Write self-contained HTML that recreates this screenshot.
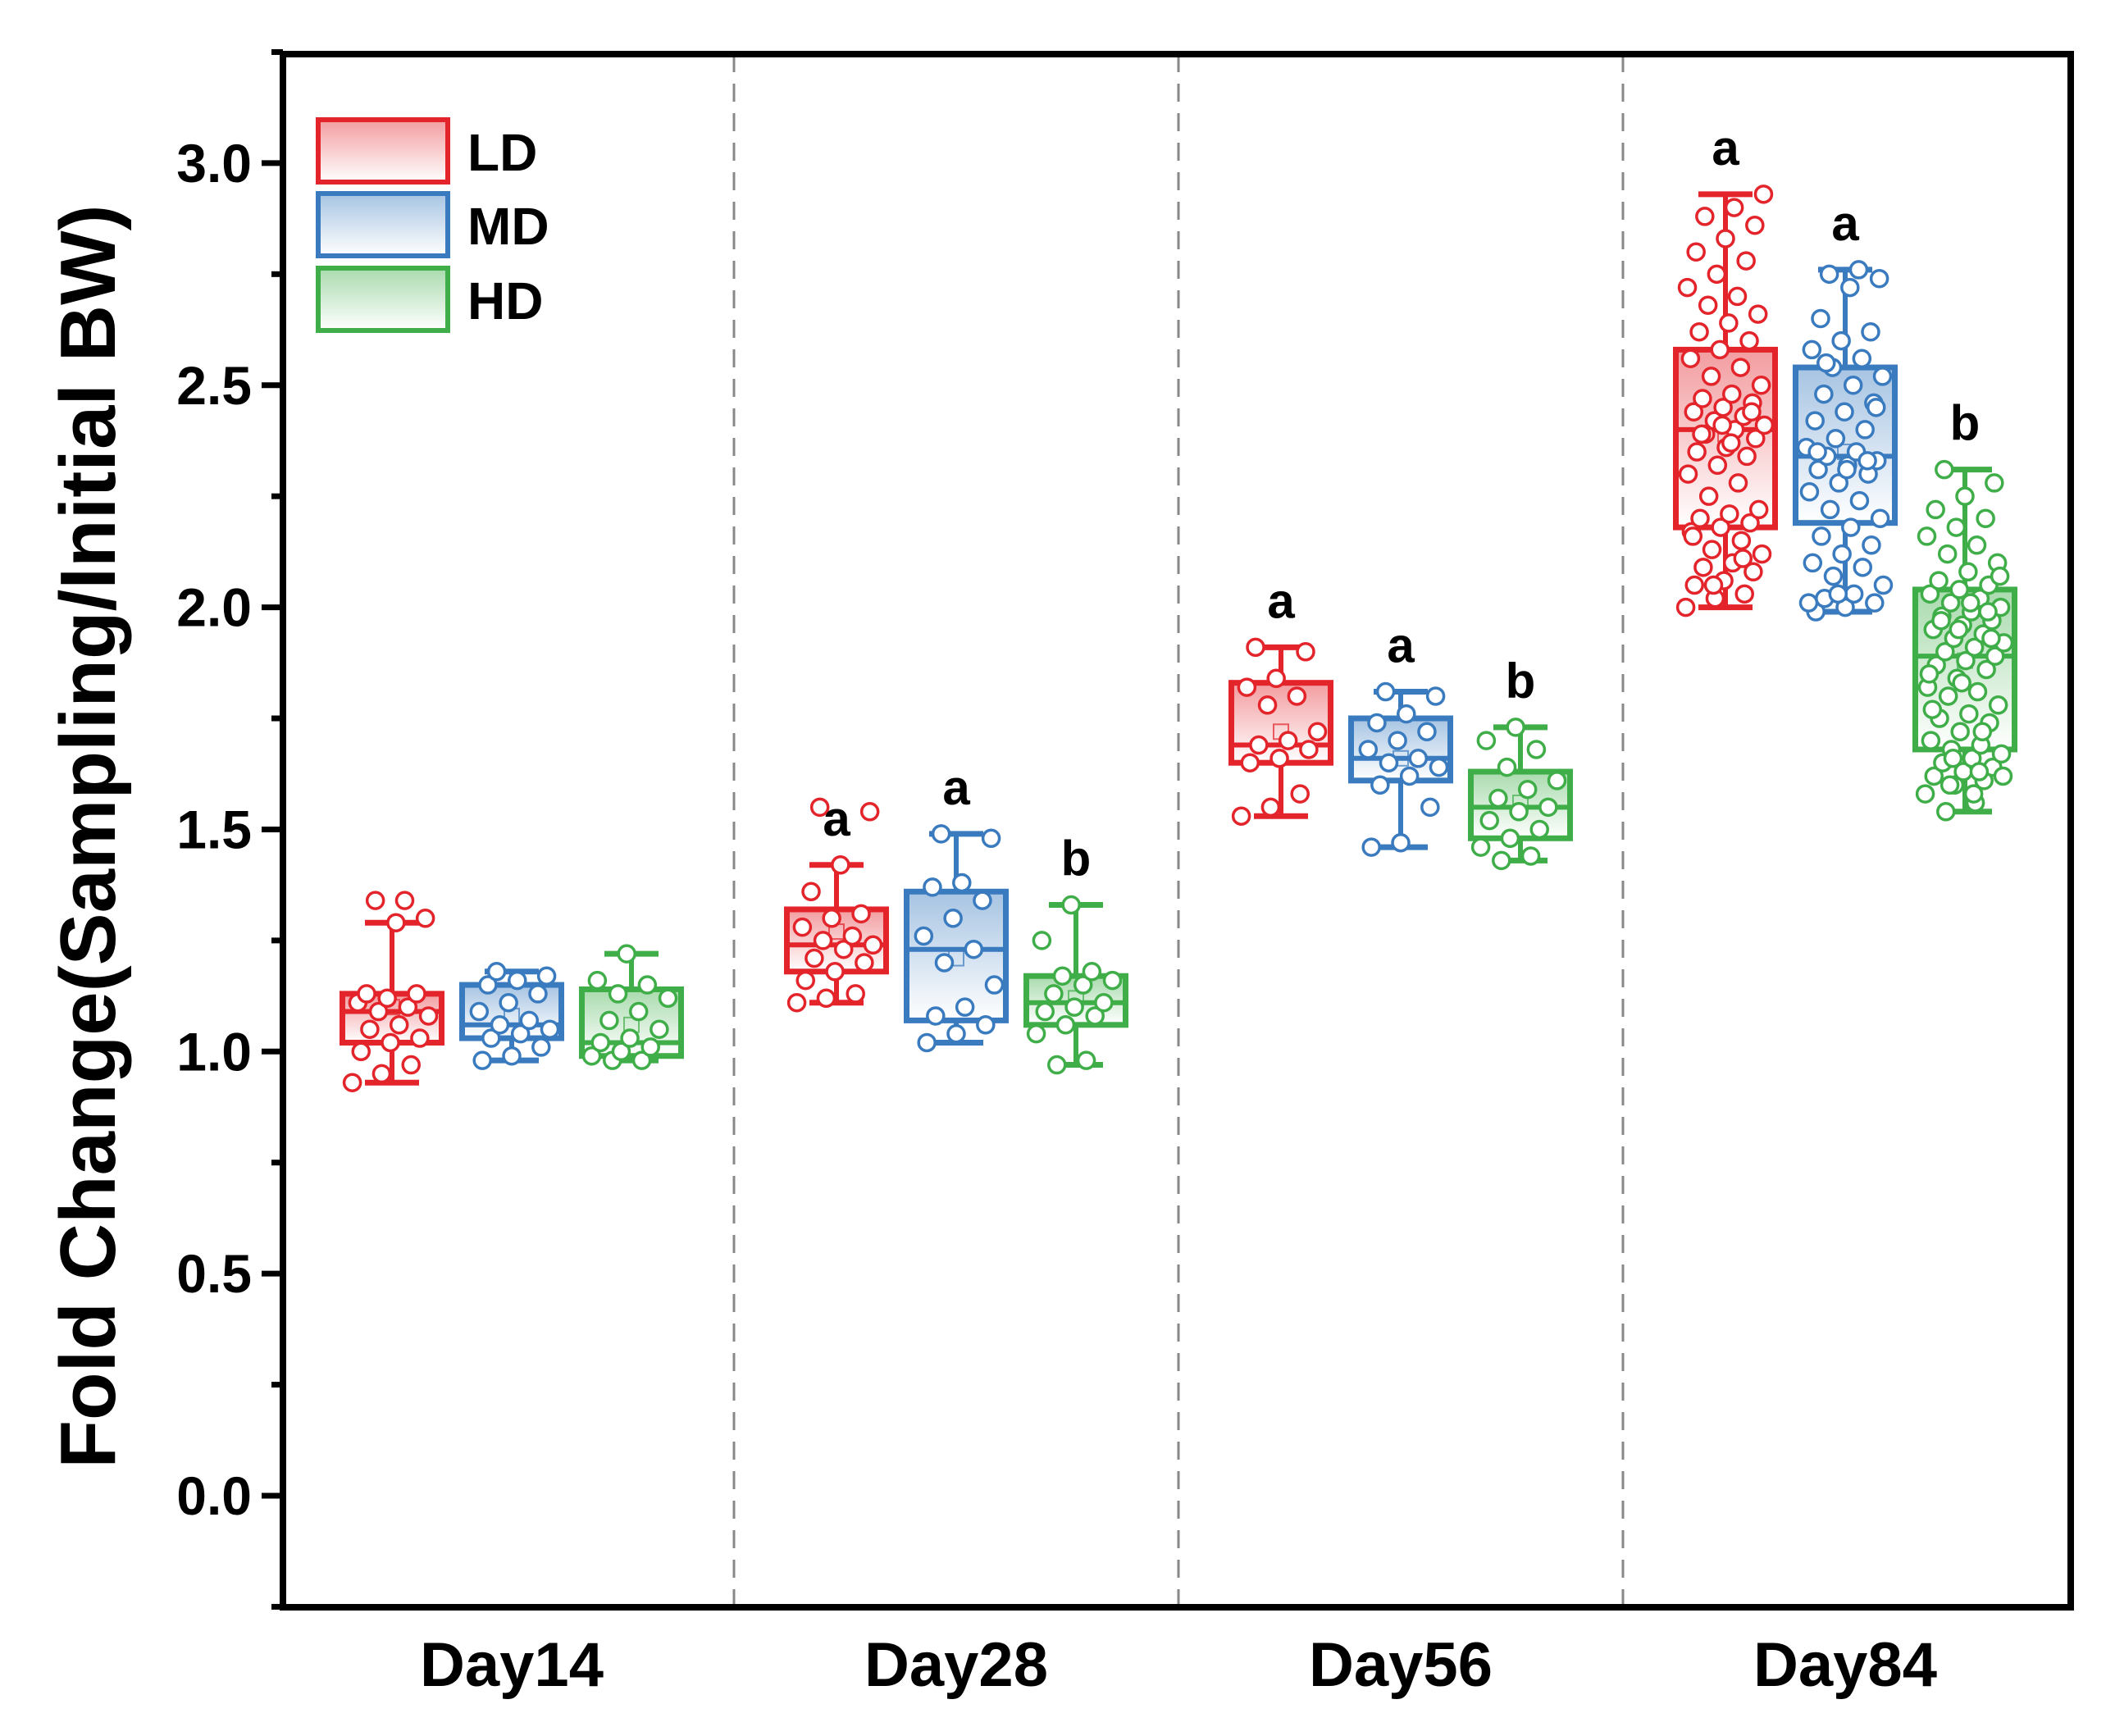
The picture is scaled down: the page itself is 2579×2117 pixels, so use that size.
<!DOCTYPE html>
<html><head><meta charset="utf-8">
<style>
html,body{margin:0;padding:0;background:#fff;}
svg{display:block;font-family:"Liberation Sans",Arial,sans-serif;}
</style></head>
<body>
<svg id="chart" width="2579" height="2117" viewBox="0 0 2579 2117">
<defs>
<linearGradient id="gLD" x1="0" y1="0" x2="0" y2="1"><stop offset="0" stop-color="#e3242b" stop-opacity="0.45"/><stop offset="1" stop-color="#e3242b" stop-opacity="0"/></linearGradient>
<linearGradient id="gMD" x1="0" y1="0" x2="0" y2="1"><stop offset="0" stop-color="#3a7bbf" stop-opacity="0.45"/><stop offset="1" stop-color="#3a7bbf" stop-opacity="0"/></linearGradient>
<linearGradient id="gHD" x1="0" y1="0" x2="0" y2="1"><stop offset="0" stop-color="#3fae49" stop-opacity="0.45"/><stop offset="1" stop-color="#3fae49" stop-opacity="0"/></linearGradient>
</defs>
<g id="plot"></g>
</svg>
<script>
const categories = ["Day14","Day28","Day56","Day84"];
const seriesNames = ["LD","MD","HD"];
const yTicks = [0.0,0.5,1.0,1.5,2.0,2.5,3.0];
const yTickLabels = ["0.0","0.5","1.0","1.5","2.0","2.5","3.0"];
// [whiskerLow, q1, median, q3, whiskerHigh, mean] per category
const statsLD = [[0.93,1.02,1.09,1.13,1.29,1.10],[1.11,1.18,1.24,1.32,1.42,1.27],[1.53,1.65,1.69,1.83,1.91,1.72],[2.00,2.18,2.40,2.58,2.93,2.39]];
const statsMD = [[0.98,1.03,1.06,1.15,1.18,1.08],[1.02,1.07,1.23,1.36,1.49,1.21],[1.46,1.61,1.66,1.75,1.81,1.66],[1.99,2.19,2.34,2.54,2.76,2.35]];
const statsHD = [[0.98,0.99,1.02,1.14,1.22,1.06],[0.97,1.06,1.11,1.17,1.33,1.12],[1.43,1.48,1.55,1.63,1.73,1.56],[1.54,1.68,1.89,2.04,2.31,1.88]];
const letters = [["","",""],["a","a","b"],["a","a","b"],["a","a","b"]];
const ptsLD = [
 [0.93,0.95,0.97,1.00,1.02,1.03,1.05,1.06,1.08,1.09,1.10,1.11,1.12,1.13,1.13,1.29,1.30,1.34,1.34],
 [1.11,1.12,1.13,1.16,1.18,1.20,1.21,1.23,1.24,1.25,1.26,1.28,1.30,1.31,1.36,1.42,1.54,1.55],
 [1.53,1.55,1.58,1.65,1.66,1.68,1.69,1.70,1.72,1.78,1.80,1.82,1.84,1.90,1.91],
 [2.00,2.02,2.03,2.05,2.06,2.08,2.09,2.10,2.12,2.13,2.15,2.17,2.18,2.19,2.20,2.21,2.22,2.25,2.28,2.30,2.32,2.34,2.35,2.36,2.38,2.39,2.40,2.41,2.42,2.43,2.44,2.45,2.46,2.47,2.48,2.50,2.52,2.54,2.56,2.58,2.60,2.62,2.64,2.66,2.68,2.70,2.72,2.75,2.78,2.80,2.83,2.86,2.88,2.90,2.93,2.05,2.11,2.16,2.41,2.44,2.39,2.37]];
const ptsMD = [
 [0.98,0.99,1.01,1.03,1.04,1.05,1.06,1.07,1.09,1.11,1.13,1.15,1.16,1.17,1.18],
 [1.02,1.04,1.06,1.08,1.10,1.15,1.20,1.23,1.26,1.30,1.34,1.37,1.38,1.48,1.49],
 [1.46,1.47,1.55,1.60,1.62,1.64,1.65,1.66,1.68,1.70,1.72,1.74,1.76,1.80,1.81],
 [1.99,2.00,2.01,2.02,2.03,2.05,2.07,2.09,2.10,2.12,2.14,2.16,2.18,2.20,2.22,2.24,2.26,2.28,2.30,2.31,2.32,2.33,2.34,2.35,2.36,2.38,2.40,2.42,2.44,2.46,2.48,2.50,2.52,2.54,2.56,2.58,2.60,2.62,2.65,2.72,2.74,2.75,2.76,2.01,2.03,2.33,2.35,2.31,2.45,2.55]];
const ptsHD = [
 [0.98,0.98,0.99,1.00,1.01,1.02,1.03,1.05,1.07,1.09,1.12,1.13,1.15,1.16,1.22],
 [0.97,0.98,1.04,1.06,1.08,1.09,1.10,1.11,1.13,1.15,1.16,1.17,1.18,1.25,1.33],
 [1.43,1.44,1.46,1.48,1.50,1.52,1.54,1.55,1.57,1.59,1.61,1.64,1.68,1.70,1.73],
 [1.54,1.56,1.58,1.60,1.61,1.62,1.63,1.64,1.65,1.66,1.67,1.68,1.69,1.70,1.72,1.74,1.75,1.76,1.78,1.80,1.81,1.82,1.84,1.86,1.87,1.88,1.89,1.90,1.91,1.92,1.93,1.94,1.95,1.96,1.97,1.98,1.99,2.00,2.01,2.02,2.03,2.04,2.05,2.06,2.08,2.10,2.12,2.14,2.16,2.18,2.20,2.22,2.25,2.28,2.31,1.58,1.62,1.66,1.72,1.77,1.83,1.93,1.97,2.01,2.07,1.60,1.63,1.85,1.95,1.99]];

const NS="http://www.w3.org/2000/svg";
const g=document.getElementById('plot');
const L=345,R=2525,T=66,B=1960;
const y0px=1824, perUnit=541.7;
function yS(v){return y0px-v*perUnit;}
const groupStep=542, groupStart=624;
function xS(ci){return groupStart+ci*groupStep;}
const offs=[-146,0,146];
const colors=["#e3242b","#3a7bbf","#3fae49"];
const grads=["url(#gLD)","url(#gMD)","url(#gHD)"];
const stats=[statsLD,statsMD,statsHD];
const pts=[ptsLD,ptsMD,ptsHD];
function el(t,a,p){const e=document.createElementNS(NS,t);for(const k in a)e.setAttribute(k,a[k]);(p||g).appendChild(e);return e;}

for(let i=1;i<categories.length;i++){
 const x=(xS(i-1)+xS(i))/2;
 const d=el('line',{x1:x,x2:x,y1:T,y2:B,stroke:'#888','stroke-width':3,'stroke-dasharray':'22,14'});
 
 
}
const bw=121, cap=66;
for(let ci=0;ci<categories.length;ci++){
 for(let si=0;si<3;si++){
  const s=stats[si][ci], cx=xS(ci)+offs[si], c=colors[si];
  const grp=el('g',{});
  
  
  el('line',{x1:cx,x2:cx,y1:yS(s[0]),y2:yS(s[1]),stroke:c,'stroke-width':6},grp);
  el('line',{x1:cx,x2:cx,y1:yS(s[3]),y2:yS(s[4]),stroke:c,'stroke-width':6},grp);
  el('line',{x1:cx-cap/2,x2:cx+cap/2,y1:yS(s[0]),y2:yS(s[0]),stroke:c,'stroke-width':7},grp);
  el('line',{x1:cx-cap/2,x2:cx+cap/2,y1:yS(s[4]),y2:yS(s[4]),stroke:c,'stroke-width':7},grp);
  el('rect',{x:cx-bw/2,y:yS(s[3]),width:bw,height:yS(s[1])-yS(s[3]),fill:grads[si],stroke:c,'stroke-width':7},grp);
  el('line',{x1:cx-bw/2,x2:cx+bw/2,y1:yS(s[2]),y2:yS(s[2]),stroke:c,'stroke-width':6},grp);
  el('rect',{x:cx-9,y:yS(s[5])-9,width:18,height:18,fill:'none',stroke:c,'stroke-width':2,opacity:0.7},grp);
  const p=pts[si][ci];
  for(let k=0;k<p.length;k++){
   const j=((k*37+si*13)%100)/100-0.5;
   const pt=el('circle',{cx:cx+j*bw*0.8,cy:yS(p[k]),r:10,fill:'#fff',stroke:c,'stroke-width':3.5},grp);
   
   
  }
  if(letters[ci][si]){
   const t=el('text',{x:cx,y:yS(s[4])-36,'font-size':60,'font-weight':'bold','text-anchor':'middle',fill:'#000'});
   t.textContent=letters[ci][si];
   
   
  }
 }
}
const fr=el('rect',{x:L,y:T,width:R-L,height:B-T,fill:'none',stroke:'#000','stroke-width':8});


for(let v=-0.25;v<=3.25;v+=0.25){
 const major=Math.abs(v*2-Math.round(v*2))<1e-6;
 el('line',{x1:L-(major?26:14),x2:L,y1:yS(v),y2:yS(v),stroke:'#000','stroke-width':7});
}
for(let i=0;i<yTicks.length;i++){
 const t=el('text',{x:L-38,y:yS(yTicks[i])+23,'font-size':66,'font-weight':'bold','text-anchor':'end',fill:'#000'});
 t.textContent=yTickLabels[i];
 
 
}
for(let i=0;i<categories.length;i++){
 const t=el('text',{x:xS(i),y:2056,'font-size':76,'font-weight':'bold','text-anchor':'middle',fill:'#000'});
 t.textContent=categories[i];
 
 
}
const yt=el('text',{x:0,y:0,'font-size':96,'font-weight':'bold','text-anchor':'middle',fill:'#000',transform:'translate(140,1020) rotate(-90)'});
yt.textContent='Fold Change(Sampling/Initial BW)';


const legY=[146,236,327];
for(let i=0;i<3;i++){
 const lg=el('g',{});
 
 
 el('rect',{x:388,y:legY[i],width:158,height:76,fill:grads[i],stroke:colors[i],'stroke-width':6},lg);
 const t=el('text',{x:570,y:legY[i]+62,'font-size':64,'font-weight':'bold',fill:'#000'},lg);
 t.textContent=seriesNames[i];
}
</script>
</body></html>
